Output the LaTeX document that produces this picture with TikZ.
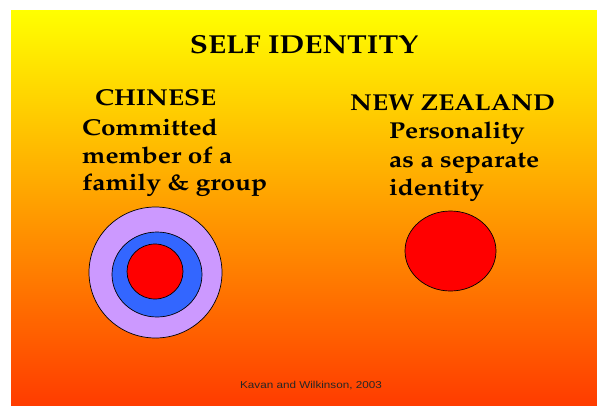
\documentclass[tikz,border=0pt]{standalone}
\usepackage{fontspec}
\usepackage[T1,TU]{fontenc}
\newfontfamily\arialfont{Liberation Sans}
\newcommand\palbold{\fontencoding{T1}\fontfamily{ppl}\fontseries{b}\selectfont}
\newcommand\widetxt[1]{\scalebox{1.14}[1]{#1}}
\definecolor{topyellow}{RGB}{255,255,0}
\definecolor{bottomorange}{RGB}{255,60,0}
\definecolor{ringlilac}{RGB}{204,153,255}
\definecolor{ringblue}{RGB}{51,102,255}
\definecolor{corered}{RGB}{255,0,0}
\tikzset{
  heading/.style={font=\palbold\fontsize{26}{30}\selectfont, inner sep=0pt, text=black},
  label/.style={font=\palbold\fontsize{23}{27}\selectfont, inner sep=0pt, anchor=base west, text=black},
  ring/.style={draw=black, line width=0.7pt},
}
\begin{document}
\begin{tikzpicture}[x=1pt,y=-1pt]
\useasboundingbox (0,0) rectangle (597,405);
\shade[top color=topyellow, bottom color=bottomorange] (11,10) rectangle (597,405);
\node[heading, anchor=base] (title) at (304,53) {\widetxt{SELF IDENTITY}};
\node[label] (cn) at (95,105) {\widetxt{CHINESE}};
\node[label] (cn1) at (82,135) {\widetxt{Committed}};
\node[label] (cn2) at (82,163) {\widetxt{member of a}};
\node[label] (cn3) at (82,190) {\widetxt{family \& group}};
\node[label] (nz) at (350,110) {\widetxt{NEW ZEALAND}};
\node[label] (nz1) at (389,138) {\widetxt{Personality}};
\node[label] (nz2) at (389,167) {\widetxt{as a separate}};
\node[label] (nz3) at (389,195) {\widetxt{identity}};
\filldraw[ring, fill=ringlilac] (155.5,272.5) ellipse [x radius=66.5, y radius=65.5];
\filldraw[ring, fill=ringblue] (157,274.5) ellipse [x radius=45, y radius=42.5];
\filldraw[ring, fill=corered] (155,271.5) ellipse [x radius=28, y radius=27.5];
\filldraw[ring, fill=corered] (450.5,251) ellipse [x radius=45.5, y radius=40];
\node[font=\arialfont\fontsize{10}{12}\selectfont, anchor=base, inner sep=0pt, text=black!85] (cite) at (311,388) {\scalebox{1.17}[1]{Kavan and Wilkinson, 2003}};
\end{tikzpicture}
\end{document}
